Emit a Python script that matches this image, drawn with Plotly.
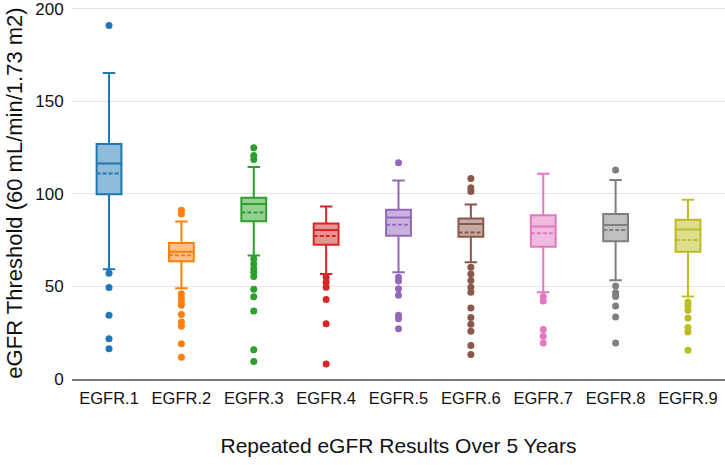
import plotly.graph_objects as go

categories = ["EGFR.1", "EGFR.2", "EGFR.3", "EGFR.4", "EGFR.5", "EGFR.6", "EGFR.7", "EGFR.8", "EGFR.9"]
lower_fence = [59.3, 49.1, 66.7, 56.8, 57.7, 63.1, 46.9, 53.4, 44.6]
q1 = [99.8, 63.6, 85.3, 72.6, 77.4, 76.9, 71.5, 74.4, 68.8]
median = [116.5, 68.8, 94.5, 80.5, 87.3, 83.7, 82.4, 83.2, 80.8]
mean = [111.0, 66.8, 90.0, 77.3, 83.3, 79.2, 78.7, 80.5, 75.1]
q3 = [127.0, 73.5, 98.0, 84.0, 91.4, 86.7, 88.5, 89.2, 86.0]
upper_fence = [165.4, 85.1, 114.5, 93.2, 107.2, 94.3, 110.9, 107.5, 96.8]
outliers = [
    [191, 57.2, 49.5, 34.4, 21.7, 16.3],
    [91.2, 89.1, 46, 43.7, 41.6, 39.8, 34.9, 30.8, 28.5, 19, 11.7],
    [124.9, 120.8, 118.6, 64.9, 62.2, 59.5, 57.7, 55.4, 48.5, 44.4, 36.7, 15.8, 9.5],
    [55, 52.3, 49.6, 43, 29.9, 8.1],
    [116.8, 55, 52.9, 48.7, 45.2, 34.4, 32.6, 27.1],
    [108.4, 103.4, 101.3, 60.4, 56.8, 53.2, 49.6, 46.9, 38.3, 33.2, 29.6, 25.8, 18.1, 13.3],
    [44.6, 42.1, 26.7, 23.1, 19.5],
    [112.9, 50.2, 46.6, 44.6, 39.4, 33.5, 19.5],
    [41.6, 39.8, 37.1, 33, 27.8, 25.4, 15.6],
]
colors = ["#1f77b4", "#ff7f0e", "#2ca02c", "#d62728", "#9467bd",
          "#8c564b", "#e377c2", "#7f7f7f", "#bcbd22"]

FONT = "Arial, Liberation Sans, sans-serif"

fig = go.Figure()
for i, cat in enumerate(categories):
    fig.add_trace(go.Box(
        x=[cat], q1=[q1[i]], median=[median[i]], q3=[q3[i]],
        lowerfence=[lower_fence[i]], upperfence=[upper_fence[i]], mean=[mean[i]],
        boxmean=True, name=cat, marker_color=colors[i],
        line=dict(color=colors[i], width=2), whiskerwidth=0.5,
        showlegend=False, hoverinfo="skip",
    ))
    fig.add_trace(go.Scatter(
        x=[cat] * len(outliers[i]), y=outliers[i], mode="markers",
        marker=dict(color=colors[i], size=7), showlegend=False, hoverinfo="skip",
    ))

fig.update_layout(
    width=725, height=465,
    margin=dict(l=72, r=0, t=5, b=86),
    plot_bgcolor="white", paper_bgcolor="white",
    boxmode="overlay", boxgap=0.51,
    font=dict(family=FONT, color="#111111", size=16),
    xaxis=dict(
        categoryorder="array", categoryarray=categories,
        showline=True, linecolor="#7a7a7a", linewidth=2,
        showgrid=False, ticks="outside", ticklen=3, tickcolor="rgba(0,0,0,0)",
        tickfont=dict(size=16.5),
        title=dict(text="Repeated eGFR Results Over 5 Years", font=dict(size=21), standoff=33),
    ),
    yaxis=dict(
        range=[0, 201], tickvals=[0, 50, 100, 150, 200],
        showgrid=True, gridcolor="#e6e6e6", gridwidth=1,
        zeroline=False, showline=False,
        ticks="outside", ticklen=4, tickcolor="rgba(0,0,0,0)",
        ticklabeloverflow="allow",
        tickfont=dict(size=17),
        title=dict(text="eGFR Threshold (60 mL/min/1.73 m2)", font=dict(size=22), standoff=6),
    ),
)

fig.write_html("out.html")
